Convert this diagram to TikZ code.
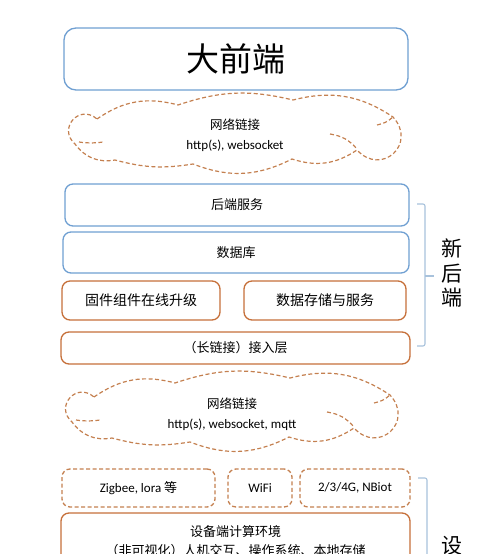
\documentclass[tikz,border=0pt]{standalone}
\usepackage{fontspec}
\setmainfont{Carlito}
\newfontfamily\cjk{Noto Sans CJK SC}
\usepackage{tikz}
\usetikzlibrary{positioning}
\definecolor{boxblue}{RGB}{112,160,210}
\definecolor{boxorange}{RGB}{198,112,58}
\definecolor{cloudorange}{RGB}{196,128,80}
\definecolor{bracegray}{RGB}{168,194,220}
\tikzset{
	layer/.style={rounded corners=8pt, line width=1.3pt, fill=white,
		inner sep=0pt, font=\cjk\fontsize{13}{16}\selectfont},
	blue layer/.style={layer, draw=boxblue},
	orange layer/.style={layer, draw=boxorange},
	link layer/.style={layer, draw=cloudorange, dashed,
		dash pattern=on 4pt off 2.5pt, font=\fontsize{13}{16}\selectfont},
	cloud line/.style={draw=cloudorange, line width=1.2pt, dash pattern=on 4pt off 2.5pt},
	cloud text/.style={align=center, inner sep=0pt, font=\fontsize{13}{20}\selectfont},
	side brace/.style={draw=bracegray, line width=1.1pt, rounded corners=2pt},
	side label/.style={align=center, font=\cjk\fontsize{21}{24.5}\selectfont},
	netcloud/.pic={
		\draw[cloud line] (-138,-17) to[bend left=25] (-57,-31)
			to[bend left=16] (58,-36) to[bend left=24] (158,-19)
			to[bend left=90, looseness=1.9] (122,14) to[bend left=26] (57,23)
			to[bend left=24] (-42,28) to[bend left=12] (-120,24)
			to[bend left=32] (-160,8) to[bend left=90, looseness=1.8] (-138,-17);
		% inner arcs of the cloud
		\draw[cloud line] (-156,6) to[bend right=8] (-132,6);
		\draw[cloud line] (95,-2) to[bend left=20] (122,13);
		\draw[cloud line] (142,-11) to[bend right=15] (158,-19);
	}
}
\begin{document}
\begin{tikzpicture}[x=1pt,y=-1pt]
	\useasboundingbox (0,0) rectangle (500,554);
	\clip (0,0) rectangle (500,554);
	% front end
	\node[blue layer, rounded corners=12pt, minimum width=344pt, minimum height=62pt,
		font=\cjk\fontsize{33}{36}\selectfont] (front) at (236,59) {大前端};
	\pic at (235,136) {netcloud};
	\node[cloud text] (cloudA) at (235,135)
		{{\cjk\fontsize{12.5}{20}\selectfont 网络链接}\\http(s), websocket};
	% back end
	\node[blue layer, minimum width=344pt, minimum height=42pt] (service) at (237,205) {后端服务};
	\node[blue layer, minimum width=346pt, minimum height=41pt] (db) at (236,252.5) {数据库};
	\node[orange layer, minimum width=158pt, minimum height=39pt,
		font=\cjk\fontsize{14}{16}\selectfont] (ota) at (141,300.5) {固件组件在线升级};
	\node[orange layer, minimum width=162pt, minimum height=39pt,
		font=\cjk\fontsize{14}{16}\selectfont] (store) at (325,300.5) {数据存储与服务};
	\node[orange layer, minimum width=349pt, minimum height=32pt] (access) at (235.5,348) {（长链接）接入层};
	\coordinate (braceA) at (425,276);
	\draw[side brace] (417,204) -- (425,204) -- (425,346) -- (417,346);
	\draw[side brace] (braceA) -- ++(9,0);
	\node[side label] (newback) at (452,273) {新\\后\\端};
	% device side
	\pic at (232,414) {netcloud};
	\node[cloud text] (cloudB) at (232,414)
		{{\cjk\fontsize{12.5}{20}\selectfont 网络链接}\\http(s), websocket, mqtt};
	\node[link layer, minimum width=153pt, minimum height=38pt] (zigbee) at (138.5,488) {Zigbee, lora {\cjk 等}};
	\node[link layer, minimum width=64pt, minimum height=38pt] (wifi) at (260,488) {WiFi};
	\node[link layer, minimum width=110pt, minimum height=38pt] (cell) at (355,488) {2/3/4G, NBiot};
	\node[orange layer, minimum width=349pt, minimum height=56pt, align=center,
		font=\cjk\fontsize{13}{19}\selectfont] (device) at (235.5,541)
		{设备端计算环境\\（非可视化）人机交互、操作系统、本地存储};
	\draw[side brace] (418,478) -- (427,478) -- (427,600);
	\node[side label] (deviceside) at (452,546) {设};
\end{tikzpicture}
\end{document}
